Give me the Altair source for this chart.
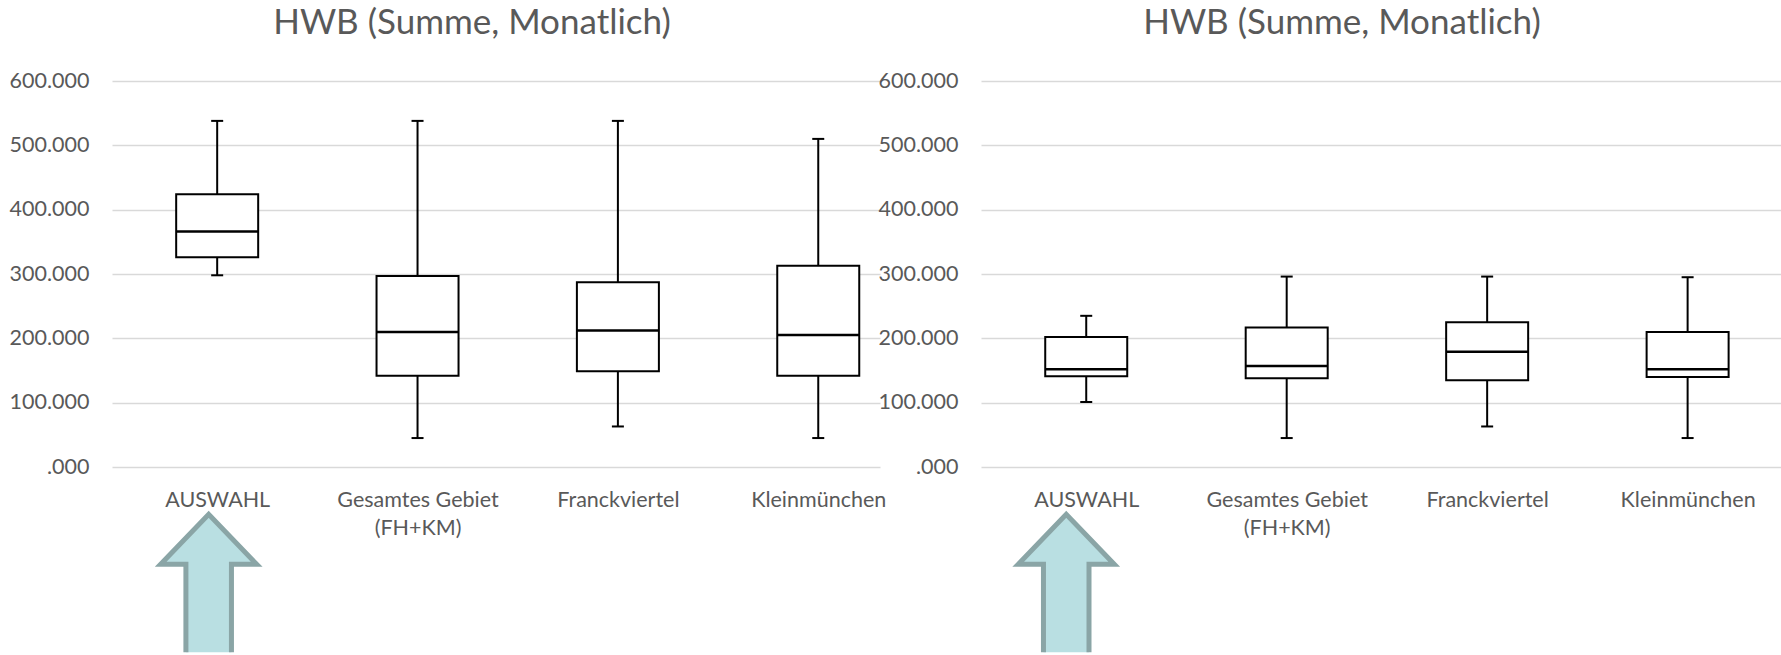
import json
import altair as alt
import pandas as pd

# Categories on the x axis
categories = ["AUSWAHL", "Gesamtes Gebiet (FH+KM)", "Franckviertel", "Kleinmünchen"]
highlight = "AUSWAHL"

# Left panel: lower whisker, Q1, median, Q3, upper whisker (kWh)
left_low = [298000, 45000, 63000, 45000]
left_q1 = [326000, 142000, 149000, 142000]
left_med = [366000, 210000, 212000, 205000]
left_q3 = [424000, 297000, 287000, 313000]
left_high = [538000, 538000, 538000, 510000]

# Right panel
right_low = [101000, 45000, 63000, 45000]
right_q1 = [141000, 138000, 135000, 140000]
right_med = [152000, 157000, 179000, 152000]
right_q3 = [202000, 217000, 225000, 210000]
right_high = [235000, 296000, 296000, 295000]

y_ticks = [0, 100000, 200000, 300000, 400000, 500000, 600000]
title_text = "HWB (Summe, Monatlich)"

FONT = "Lato"
GREY = "#595959"
STEP = 203  # pixel width of one category slot
# Upward block arrow, open at the bottom so its shaft runs off the page
ARROW_PATH = ("M -0.33 1 L -0.33 -0.275 L -0.696 -0.275 L 0 -1 "
              "L 0.696 -0.275 L 0.33 -0.275 L 0.33 1")

positions = list(range(len(categories)))
label_expr = ("split(replace(" + json.dumps(categories) +
              "[datum.value], ' (', '|('), '|')")


def panel(low, q1, med, q3, high, plot_width, title_dx, arrow_dx, axis_extent):
    df = pd.DataFrame({"pos": positions, "cat": categories, "low": low, "q1": q1,
                       "med": med, "q3": q3, "high": high})
    xscale = alt.Scale(domain=[-0.5, -0.5 + plot_width / STEP], nice=False, zero=False)
    x = alt.X("pos:Q", scale=xscale,
              axis=alt.Axis(title=None, values=positions, labelExpr=label_expr,
                            labelAngle=0, domain=False, ticks=False, grid=False,
                            labelFlush=False, labelOverlap=False,
                            labelPadding=22, labelFont=FONT, labelFontSize=21.5,
                            labelColor=GREY, labelLimit=400, labelLineHeight=28.5))
    yscale = alt.Scale(domain=[0, 600000], nice=False, zero=True)
    yaxis = alt.Axis(title=None, values=y_ticks, grid=True, gridColor="#d9d9d9",
                     gridWidth=1.5, domain=False, ticks=False, labelPadding=23,
                     labelFont=FONT, labelFontSize=21.5, labelColor=GREY,
                     minExtent=axis_extent, maxExtent=axis_extent,
                     labelExpr="datum.value == 0 ? '.000' : "
                               "replace(format(datum.value, ','), ',', '.')")
    base = alt.Chart(df)
    whisk_lo = base.mark_rule(color="black", strokeWidth=2).encode(
        x=x, y=alt.Y("low:Q", scale=yscale, axis=yaxis), y2="q1:Q")
    whisk_hi = base.mark_rule(color="black", strokeWidth=2).encode(
        x=x, y=alt.Y("q3:Q", scale=yscale), y2="high:Q")
    cap_lo = base.mark_tick(size=12, thickness=2, color="black", opacity=1,
                            orient="horizontal").encode(
        x=x, y=alt.Y("low:Q", scale=yscale))
    cap_hi = base.mark_tick(size=12, thickness=2, color="black", opacity=1,
                            orient="horizontal").encode(
        x=x, y=alt.Y("high:Q", scale=yscale))
    box = base.mark_bar(size=82, fill="white", stroke="black", strokeWidth=2,
                        opacity=1, orient="vertical").encode(
        x=x, y=alt.Y("q1:Q", scale=yscale), y2="q3:Q")
    median = base.mark_tick(size=82, thickness=2.5, color="black", opacity=1,
                            orient="horizontal").encode(
        x=x, y=alt.Y("med:Q", scale=yscale))
    arrow_df = pd.DataFrame({"pos": [categories.index(highlight)]})
    arrow = alt.Chart(arrow_df).mark_point(
        shape=ARROW_PATH, size=19044, filled=True, fill="#b9dfe2",
        stroke="#8aa5a6", strokeWidth=5, opacity=1, strokeJoin="miter",
        xOffset=arrow_dx).encode(x=x, y=alt.value(502.3))
    return alt.layer(whisk_lo, whisk_hi, cap_lo, cap_hi, box, median, arrow).properties(
        width=plot_width, height=386,
        title=alt.TitleParams(title_text, font=FONT, fontSize=35, color=GREY,
                              fontWeight="normal", anchor="middle", frame="group",
                              baseline="alphabetic", offset=1.5, dx=title_dx))


left = panel(left_low, left_q1, left_med, left_q3, left_high, 768, -24, -8.5, 112)
right = panel(right_low, right_q1, right_med, right_q3, right_high, 800, -39, -20, 101)

chart = alt.hconcat(left, right, spacing=101, bounds="flush").properties(
    padding={"left": 0, "right": 0, "top": 5, "bottom": 0}
).configure_view(stroke=None)

chart.save("out.html", embed_options={"renderer": "svg", "actions": False})
